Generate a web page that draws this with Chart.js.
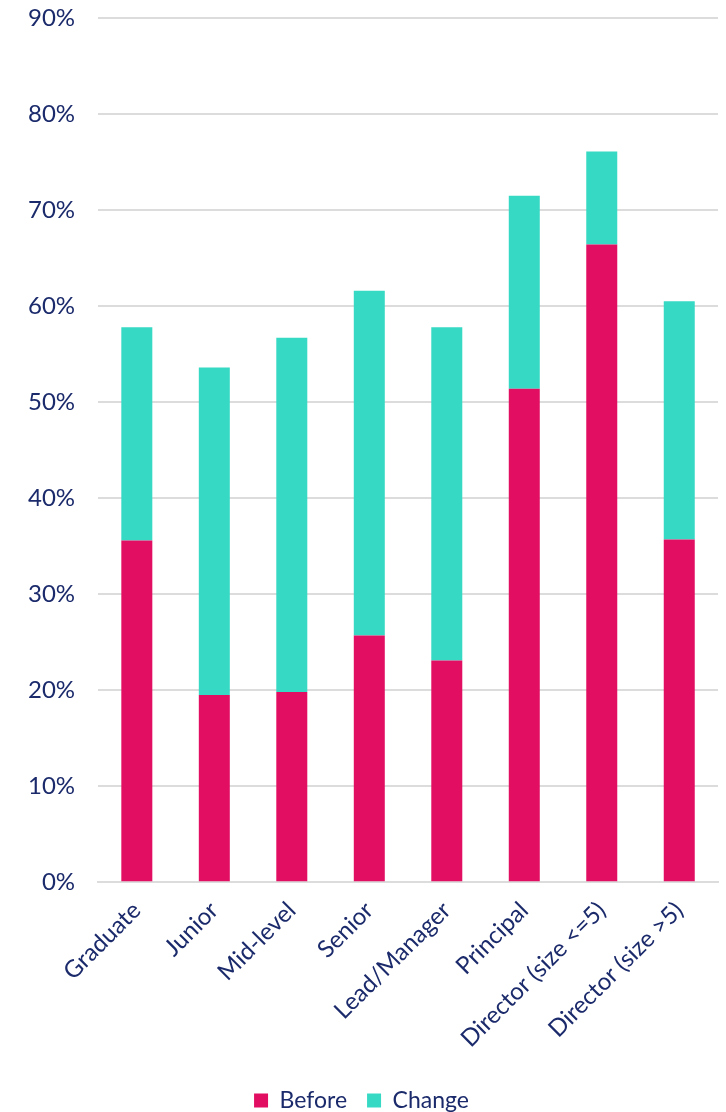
<!DOCTYPE html>
<html>
<head>
<meta charset="utf-8">
<script src="https://cdn.jsdelivr.net/npm/chart.js@4.4.1/dist/chart.umd.min.js"></script>
<style>
html,body{margin:0;padding:0;background:#fff;}
#wrap{width:726px;height:1112px;}
</style>
</head>
<body>
<div id="wrap"><canvas id="c" width="726" height="1112"></canvas></div>
<script>
const categories = ["Graduate","Junior","Mid-level","Senior","Lead/Manager","Principal","Director (size <=5)","Director (size >5)"];
const beforeValues = [35.6, 19.5, 19.8, 25.7, 23.1, 51.4, 66.4, 35.7];
const changeValues = [22.2, 34.1, 36.9, 35.9, 34.7, 20.1, 9.7, 24.8];
const seriesNames = ["Before","Change"];
const yTicks = [0,10,20,30,40,50,60,70,80,90];

const navy = "#1b2a6b";
const fontFam = "Lato, 'Noto Sans', sans-serif";

new Chart(document.getElementById("c"), {
  type: "bar",
  data: {
    labels: categories,
    datasets: [
      {label: seriesNames[0], data: beforeValues, backgroundColor: "#e20e62", barPercentage: 0.5, categoryPercentage: 0.8},
      {label: seriesNames[1], data: changeValues, backgroundColor: "#36d9c4", barPercentage: 0.5, categoryPercentage: 0.8}
    ]
  },
  options: {
    responsive: false,
    animation: false,
    layout: {autoPadding: false, padding: {top: 18, right: 8, left: 5, bottom: -10}},
    plugins: {
      legend: {
        position: "bottom",
        labels: {color: navy, font: {family: fontFam, size: 23}, boxWidth: 14, boxHeight: 14, padding: 20}
      },
      tooltip: {enabled: false}
    },
    scales: {
      x: {
        stacked: true,
        grid: {display: false, drawTicks: false},
        border: {display: true, color: "#dcdcdc", width: 2},
        ticks: {color: navy, font: {family: fontFam, size: 24}, minRotation: 45, maxRotation: 45, padding: 14},
        afterFit: (scale) => { scale.height += 2; }
      },
      y: {
        stacked: true,
        min: 0, max: 90,
        afterBuildTicks: (axis) => { axis.ticks = yTicks.map(v => ({value: v})); },
        afterFit: (scale) => { scale.paddingTop = 0; },
        grid: {color: "#dcdcdc", lineWidth: 2, drawTicks: false},
        border: {display: false},
        ticks: {color: navy, font: {family: fontFam, size: 24}, padding: 23, callback: v => v + "%"}
      }
    }
  }
});
</script>
</body>
</html>
